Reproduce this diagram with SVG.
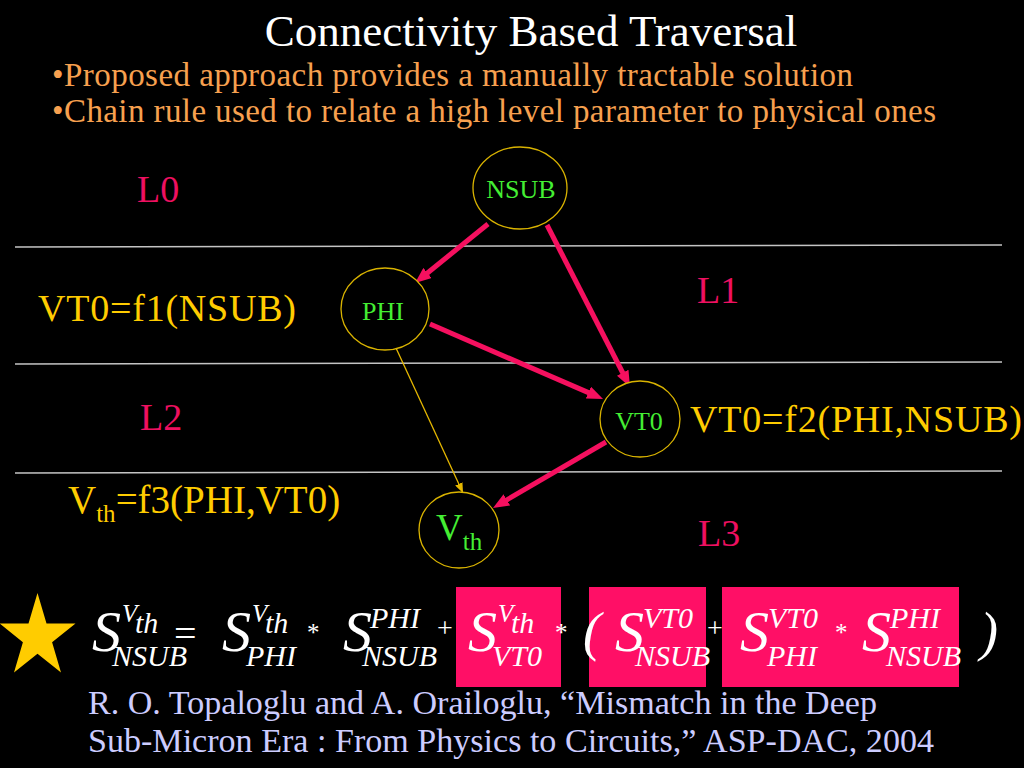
<svg xmlns="http://www.w3.org/2000/svg" width="1024" height="768" viewBox="0 0 1024 768" font-family="'Liberation Serif', 'Times New Roman', 'DejaVu Serif', serif">
<defs>
<style>
.ti{fill:#fff;font-size:45px}
.bul{fill:#F7A04F;font-size:33px}
.lv{fill:#EE1060;font-size:38px}
.eq{fill:#FFCC00;font-size:38px}
.nl{fill:#44EE33;font-size:26px}
.nd{fill:#000;stroke:#D9B300;stroke-width:1.3}
.hl{stroke:#C4C4C4;stroke-width:1.6}
.ar{stroke:#F5105F;stroke-width:5;fill:none}
.ary{stroke:#E6B800;stroke-width:1.3;fill:none}
.fS{font-style:italic;font-size:58px;fill:#fff}
.fs{font-style:italic;font-size:30px;fill:#fff}
.fv{font-style:italic;font-size:25px;fill:#fff}
.op{fill:#fff}
.box{fill:#FF0F66}
.cit{fill:#CCCCFF;font-size:33px}
</style>
<marker id="ah" markerUnits="userSpaceOnUse" markerWidth="16" markerHeight="13" refX="2" refY="6.5" orient="auto">
<path d="M0,0 L16,6.5 L0,13 z" fill="#F5105F"/>
</marker>
<marker id="ahy" markerUnits="userSpaceOnUse" markerWidth="10" markerHeight="8" refX="10" refY="4" orient="auto">
<path d="M0,0 L10,4 L0,8 z" fill="#E6B800"/>
</marker>
</defs>
<rect width="1024" height="768" fill="#000"/>

<text class="ti" x="531" y="46" text-anchor="middle">Connectivity Based Traversal</text>
<text class="bul" x="52" y="86" textLength="801">•Proposed approach provides a manually tractable solution</text>
<text class="bul" x="52" y="122" textLength="884">•Chain rule used to relate a high level parameter to physical ones</text>

<g id="levels">
<line class="hl" x1="15" y1="247" x2="1002" y2="245"/>
<line class="hl" x1="15" y1="364" x2="1002" y2="362"/>
<line class="hl" x1="15" y1="473" x2="1002" y2="471"/>
<text class="lv" x="137" y="202">L0</text>
<text class="lv" x="697" y="303">L1</text>
<text class="lv" x="140" y="430">L2</text>
<text class="lv" x="698" y="546">L3</text>
<text class="eq" x="38" y="321" textLength="258">VT0=f1(NSUB)</text>
<text class="eq" x="690" y="432" textLength="332">VT0=f2(PHI,NSUB)</text>
<text class="eq" x="68" y="513" style="font-size:39px">V<tspan dy="9" style="font-size:25px">th</tspan><tspan dy="-9">=f3(PHI,VT0)</tspan></text>
</g>

<g id="connectors">
<line class="ar" x1="488" y1="224" x2="425.9" y2="274.2" marker-end="url(#ah)"/>
<line class="ar" x1="547" y1="225" x2="623.6" y2="374.5" marker-end="url(#ah)"/>
<line class="ar" x1="430" y1="324" x2="590.2" y2="393.4" marker-end="url(#ah)"/>
<line class="ar" x1="606" y1="442" x2="505.1" y2="500.9" marker-end="url(#ah)"/>
<line class="ary" x1="396" y1="348" x2="463" y2="493" marker-end="url(#ahy)"/>
</g>

<g id="node-nsub">
<ellipse class="nd" cx="520" cy="188" rx="47" ry="41"/>
<text class="nl" x="521" y="198" text-anchor="middle">NSUB</text>
</g>
<g id="node-phi">
<ellipse class="nd" cx="385" cy="309" rx="44" ry="41"/>
<text class="nl" x="383" y="320" text-anchor="middle">PHI</text>
</g>
<g id="node-vt0">
<ellipse class="nd" cx="640" cy="419" rx="40" ry="38"/>
<text class="nl" x="639" y="430" text-anchor="middle">VT0</text>
</g>
<g id="node-vth">
<ellipse class="nd" cx="459" cy="530" rx="40" ry="38"/>
<text class="nl" x="436" y="540" style="font-size:37px">V<tspan dy="10" style="font-size:25px">th</tspan></text>
</g>

<g id="formula">
<polygon points="37.5,593 46.5,623.4 75.5,623.4 52.1,642.2 61,672.6 37.5,653.8 14,672.6 22.9,642.2 -0.5,623.4 28.5,623.4" fill="#FFCC00"/>
<rect class="box" x="456" y="587" width="105" height="100"/>
<rect class="box" x="589" y="587" width="117" height="100"/>
<rect class="box" x="722" y="587" width="237" height="100"/>

<text class="fS" x="92" y="651">S</text>
<text class="fv" x="122" y="622">V</text><text class="fs" x="135" y="633">th</text>
<text class="fs" x="112" y="666">NSUB</text>
<text class="op" x="174" y="647" style="font-size:40px">=</text>

<text class="fS" x="222" y="651">S</text>
<text class="fv" x="252" y="622">V</text><text class="fs" x="265" y="633">th</text>
<text class="fs" x="246" y="666">PHI</text>
<text class="op" x="307" y="641" style="font-size:25px">*</text>

<text class="fS" x="343" y="651">S</text>
<text class="fs" x="370" y="628">PHI</text>
<text class="fs" x="362" y="666">NSUB</text>
<text class="op" x="437" y="637" style="font-size:28px">+</text>

<text class="fS" x="468" y="651">S</text>
<text class="fv" x="498" y="622">V</text><text class="fs" x="511" y="633">th</text>
<text class="fs" x="492" y="666">VT0</text>
<text class="op" x="555" y="641" style="font-size:25px">*</text>

<text class="op" x="583" y="650" style="font-size:54px;font-style:italic">(</text>

<text class="fS" x="615" y="651">S</text>
<text class="fs" x="643" y="628">VT0</text>
<text class="fs" x="635" y="666">NSUB</text>
<text class="op" x="707" y="637" style="font-size:28px">+</text>

<text class="fS" x="740" y="651">S</text>
<text class="fs" x="768" y="628">VT0</text>
<text class="fs" x="767" y="666">PHI</text>
<text class="op" x="835" y="641" style="font-size:25px">*</text>

<text class="fS" x="862" y="651">S</text>
<text class="fs" x="890" y="628">PHI</text>
<text class="fs" x="886" y="666">NSUB</text>

<text class="op" x="980" y="650" style="font-size:54px;font-style:italic">)</text>
</g>

<text class="cit" x="88" y="714" textLength="789" lengthAdjust="spacingAndGlyphs">R. O. Topaloglu and A. Orailoglu, “Mismatch in the Deep</text>
<text class="cit" x="88" y="752" textLength="846" lengthAdjust="spacingAndGlyphs">Sub-Micron Era : From Physics to Circuits,” ASP-DAC, 2004</text>
</svg>
